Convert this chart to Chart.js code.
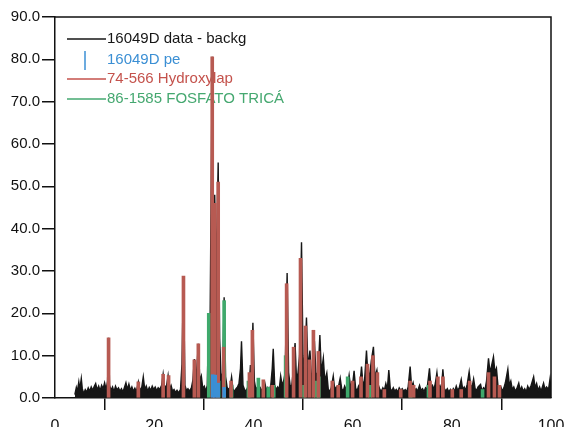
<!DOCTYPE html>
<html>
<head>
<meta charset="utf-8">
<script src="https://cdn.jsdelivr.net/npm/chart.js@4.4.1/dist/chart.umd.min.js"></script>
<style>
  html, body { margin: 0; padding: 0; background: #fff; overflow: hidden; }
  canvas { display: block; }
</style>
</head>
<body>
<canvas id="xrdChart" width="568" height="445"></canvas>
<script>
var scanPoints = [
  [4.0,0.8],[4.3,2.5],[4.5,1.5],[4.8,3.8],[5.0,2.0],[5.3,4.6],[5.5,2.2],[5.8,1.0],[6.1,2.0],[6.4,1.4],
  [6.7,2.4],[7.0,1.6],[7.3,2.6],[7.6,1.8],[7.9,2.7],[8.2,3.4],[8.5,1.9],[8.8,2.8],[9.1,1.7],[9.4,3.0],
  [9.7,2.2],[10.0,3.6],[10.3,2.0],[10.6,4.0],[10.8,14.2],[11.0,3.0],[11.3,1.8],[11.6,2.6],[11.9,1.5],[12.2,2.8],
  [12.5,1.9],[12.8,2.4],[13.1,1.6],[13.4,2.2],[13.7,1.4],[14.0,2.5],[14.3,3.6],[14.6,2.0],[14.9,3.3],[15.2,1.8],
  [15.5,2.6],[15.8,1.6],[16.1,2.3],[16.4,1.5],[16.8,3.8],[17.1,1.8],[17.5,2.6],[17.8,5.0],[18.1,2.0],[18.4,2.8],
  [18.7,1.6],[19.0,2.5],[19.3,1.8],[19.6,2.8],[19.9,2.0],[20.2,2.6],[20.5,1.7],[20.8,2.4],[21.1,2.0],[21.5,3.0],
  [21.8,5.6],[22.1,2.4],[22.5,3.0],[22.8,5.3],[23.1,2.2],[23.4,3.0],[23.7,1.6],[24.0,2.0],[24.3,1.3],[24.6,1.8],
  [24.9,1.2],[25.3,2.0],[25.6,8.0],[25.9,28.8],[26.2,3.0],[26.5,1.8],[26.8,2.2],[27.1,1.6],[27.5,2.4],[27.8,4.2],
  [28.1,9.2],[28.4,3.5],[28.9,12.8],[29.2,4.0],[29.5,5.2],[29.8,2.2],[30.1,2.8],[30.4,1.6],[30.7,3.0],[31.0,20.0],
  [31.2,8.0],[31.7,80.6],[32.0,30.0],[32.2,48.0],[32.5,30.0],[32.9,55.6],[33.2,14.0],[33.5,4.0],[33.8,6.0],[34.1,23.8],
  [34.4,5.0],[34.7,2.5],[35.0,2.0],[35.3,2.6],[35.6,5.0],[35.9,2.0],[36.2,1.6],[36.5,2.2],[36.8,2.6],[37.1,3.5],
  [37.4,7.0],[37.6,13.4],[37.9,3.0],[38.2,2.0],[38.5,1.6],[38.8,2.4],[39.1,2.0],[39.4,7.8],[39.6,4.0],[39.9,17.8],
  [40.2,4.0],[40.5,2.0],[40.8,2.6],[41.1,1.8],[41.4,2.4],[41.7,1.6],[42.0,2.8],[42.3,3.6],[42.6,2.0],[42.9,2.5],
  [43.2,1.8],[43.5,3.0],[43.8,7.0],[44.0,11.6],[44.3,3.0],[44.6,2.0],[44.9,2.6],[45.2,2.0],[45.5,5.2],[45.8,3.0],
  [46.1,4.0],[46.4,6.0],[46.8,29.5],[47.1,6.0],[47.4,3.0],[47.7,2.6],[48.0,6.0],[48.4,13.0],[48.7,4.0],[49.0,6.0],
  [49.3,10.0],[49.7,36.8],[50.0,10.0],[50.3,6.0],[50.7,19.0],[51.0,7.0],[51.4,11.2],[51.7,5.0],[52.0,6.0],[52.3,13.5],
  [52.6,6.0],[53.0,5.0],[53.4,14.9],[53.7,6.0],[54.1,9.4],[54.4,4.0],[54.8,5.9],[55.1,2.0],[55.4,1.6],[55.7,2.4],
  [56.1,5.2],[56.4,2.0],[56.7,2.6],[57.0,1.8],[57.5,4.7],[57.8,2.2],[58.1,1.6],[58.4,2.8],[58.7,2.0],[59.0,3.0],
  [59.3,5.4],[59.6,2.6],[60.0,3.2],[60.3,6.4],[60.6,2.4],[60.9,1.6],[61.2,2.8],[61.5,3.4],[61.8,7.4],[62.1,3.0],
  [62.4,4.0],[62.8,11.2],[63.1,5.0],[63.5,6.0],[63.8,9.0],[64.2,12.1],[64.5,5.0],[64.9,6.6],[65.2,3.0],[65.5,2.0],
  [65.8,1.6],[66.1,2.4],[66.4,1.8],[66.7,3.4],[67.0,2.0],[67.3,6.6],[67.6,2.2],[67.9,1.6],[68.2,2.4],[68.5,1.6],
  [68.8,2.0],[69.1,1.4],[69.4,2.4],[69.7,1.8],[70.0,2.2],[70.3,1.6],[70.6,2.0],[70.9,1.5],[71.2,2.6],[71.6,7.4],
  [71.9,2.6],[72.2,3.6],[72.5,1.8],[72.8,2.2],[73.1,1.6],[73.5,3.0],[73.8,1.8],[74.1,2.2],[74.4,1.5],[74.7,2.4],
  [75.0,2.0],[75.5,7.0],[75.8,2.4],[76.1,3.0],[76.4,2.0],[76.7,3.6],[77.0,6.0],[77.3,2.6],[77.6,3.0],[77.9,2.0],
  [78.2,6.8],[78.5,2.2],[78.8,1.6],[79.1,2.2],[79.4,1.4],[79.7,2.0],[80.0,1.2],[80.3,2.2],[80.6,1.6],[80.9,2.8],
  [81.2,1.8],[81.5,2.4],[81.9,4.4],[82.2,2.0],[82.5,2.6],[82.8,1.8],[83.1,3.2],[83.5,6.2],[83.8,3.0],[84.1,2.6],
  [84.4,4.5],[84.7,2.2],[85.0,1.8],[85.3,2.6],[85.8,3.2],[86.1,1.6],[86.4,2.4],[86.7,2.0],[87.0,4.0],[87.4,9.4],
  [87.7,6.0],[88.0,7.5],[88.4,9.7],[88.7,6.0],[89.0,7.0],[89.3,3.0],[89.6,2.0],[89.9,2.6],[90.2,1.6],[90.5,2.4],
  [90.8,3.6],[91.3,6.8],[91.6,3.0],[91.9,4.0],[92.2,2.0],[92.5,2.6],[92.8,1.6],[93.1,2.2],[93.5,3.5],[93.8,1.8],
  [94.1,2.6],[94.4,1.6],[94.7,2.2],[95.0,1.4],[95.3,2.8],[95.6,2.0],[96.0,3.0],[96.5,5.0],[96.8,2.4],[97.1,3.4],
  [97.4,1.8],[97.7,2.6],[98.0,1.6],[98.5,3.5],[98.8,2.0],[99.1,2.6],[99.5,2.0],[99.8,4.5],[100,2.0]
];

// found peaks
var peakSticks = [[31.8,5.5],[32.3,5.4],[32.9,3.5],[34.1,2.5]];

// 74-566 Hydroxylapatite reference lines
var hapSticks = [
  [10.8,14.2],[16.8,3.8],[21.8,5.6],[22.9,5.3],[25.9,28.8],[28.1,9.0],[28.9,12.8],[31.7,80.6],[32.2,46],
  [32.9,51],[34.0,12],[35.5,4],[39.2,6],[39.8,16],[42.0,4.3],[43.8,3.0],[46.7,27],[48.1,12],[49.5,33],
  [50.5,17],[51.3,9],[52.1,16],[53.1,11],[55.9,4],[57.1,3],[60.0,4],[61.7,5],[63.0,8],[64.1,10],[65.0,6],
  [66.4,2],[69.7,2],[71.6,4],[72.3,3],[75.6,4],[77.2,5],[78.2,5],[80.1,2],[81.9,2],[83.6,4],[87.4,6],
  [88.6,5],[89.6,3]
];

// 86-1585 tricalcium phosphate reference lines
var tcpSticks = [
  [31.0,20.0],[33.0,4],[34.1,23],[35.6,3],[39.0,4],[41.0,4.7],[43.0,2.5],[44.1,3],[46.5,10],[50.2,3],
  [52.6,4],[53.2,5],[59.0,5],[63.5,3],[71.7,2],[75.3,3],[86.2,2]
];

var legendNames = ["16049D data - backg", "16049D pe", "74-566 Hydroxylap", "86-1585 FOSFATO TRICÁ"];
var yTicks = [0, 10, 20, 30, 40, 50, 60, 70, 80, 90];
var xTicks = [0, 20, 40, 60, 80, 100];

var colBlack = "#161616";
var colBlue = "#3b8fd4";
var colRed = "#b75a52";
var colGreen = "#3fa96c";

function toXY(list) {
  return list.map(function (p) { return { x: p[0], y: p[1] }; });
}

// legend drawn under the peaks, like the original
var legendPlugin = {
  id: "xrdLegend",
  beforeDatasetsDraw: function (chart) {
    var ctx = chart.ctx;
    var rows = [39, 60, 79, 99];
    var cols = [colBlack, colBlue, "#c4524c", "#45a870"];
    ctx.save();
    ctx.font = "15px 'Liberation Sans', Arial, sans-serif";
    ctx.textBaseline = "middle";
    ctx.lineWidth = 1.5;
    for (var i = 0; i < legendNames.length; i++) {
      ctx.strokeStyle = cols[i];
      ctx.beginPath();
      if (i == 1) {
        ctx.moveTo(85, 51);
        ctx.lineTo(85, 70);
      } else {
        ctx.moveTo(67, rows[i]);
        ctx.lineTo(106, rows[i]);
      }
      ctx.stroke();
      ctx.fillStyle = cols[i];
      ctx.fillText(legendNames[i], 107, rows[i]);
    }
    ctx.restore();
  },
  afterDraw: function (chart) {
    var a = chart.chartArea;
    var ctx = chart.ctx;
    ctx.save();
    ctx.strokeStyle = "#111";
    ctx.lineWidth = 1.5;
    ctx.beginPath();
    ctx.moveTo(a.left, a.top);
    ctx.lineTo(a.right, a.top);
    ctx.lineTo(a.right, a.bottom);
    ctx.stroke();
    ctx.restore();
  }
};

var ctx = document.getElementById("xrdChart");
var xrdChart = new Chart(ctx, {
  type: "line",
  data: {
    datasets: [
      {
        type: "bar",
        label: legendNames[1],
        data: toXY(peakSticks),
        backgroundColor: colBlue,
        barThickness: 3,
        grouped: false,
        order: 1
      },
      {
        type: "bar",
        label: legendNames[2],
        data: toXY(hapSticks),
        backgroundColor: colRed,
        barThickness: 3,
        grouped: false,
        order: 2
      },
      {
        type: "bar",
        label: legendNames[3],
        data: toXY(tcpSticks),
        backgroundColor: colGreen,
        barThickness: 3,
        grouped: false,
        order: 3
      },
      {
        label: legendNames[0],
        data: toXY(scanPoints),
        borderColor: colBlack,
        backgroundColor: colBlack,
        fill: "origin",
        borderWidth: 1.4,
        pointRadius: 0,
        tension: 0,
        order: 4
      }
    ]
  },
  options: {
    responsive: false,
    animation: false,
    devicePixelRatio: 1,
    layout: { padding: { left: 0, right: 17, top: 17, bottom: 0 } },
    plugins: {
      legend: { display: false },
      tooltip: { enabled: false }
    },
    scales: {
      x: {
        type: "linear",
        min: 0,
        max: 100,
        offset: false,
        afterBuildTicks: function (scale) {
          scale.ticks = xTicks.map(function (v) { return { value: v }; });
        },
        afterFit: function (scale) {
          scale.height = 47;
          scale.paddingLeft = 0;
          scale.paddingRight = 0;
        },
        grid: { display: true, drawOnChartArea: false, drawTicks: true, tickLength: 12, color: "#111", lineWidth: 1.5 },
        border: { display: true, color: "#111", width: 1.5 },
        ticks: {
          color: "#111",
          padding: 7,
          maxRotation: 0,
          font: { family: "'Liberation Sans', Arial, sans-serif", size: 16 }
        }
      },
      y: {
        min: 0,
        max: 90,
        afterBuildTicks: function (scale) {
          scale.ticks = yTicks.map(function (v) { return { value: v }; });
        },
        afterFit: function (scale) { scale.width = 55; },
        grid: { display: true, drawOnChartArea: false, drawTicks: true, tickLength: 13, color: "#111", lineWidth: 1.5 },
        border: { display: true, color: "#111", width: 1.5 },
        ticks: {
          color: "#111",
          padding: 2,
          font: { family: "'Liberation Sans', Arial, sans-serif", size: 15 },
          callback: function (v) { return Number(v).toFixed(1); }
        }
      }
    }
  },
  plugins: [legendPlugin]
});
</script>
</body>
</html>
